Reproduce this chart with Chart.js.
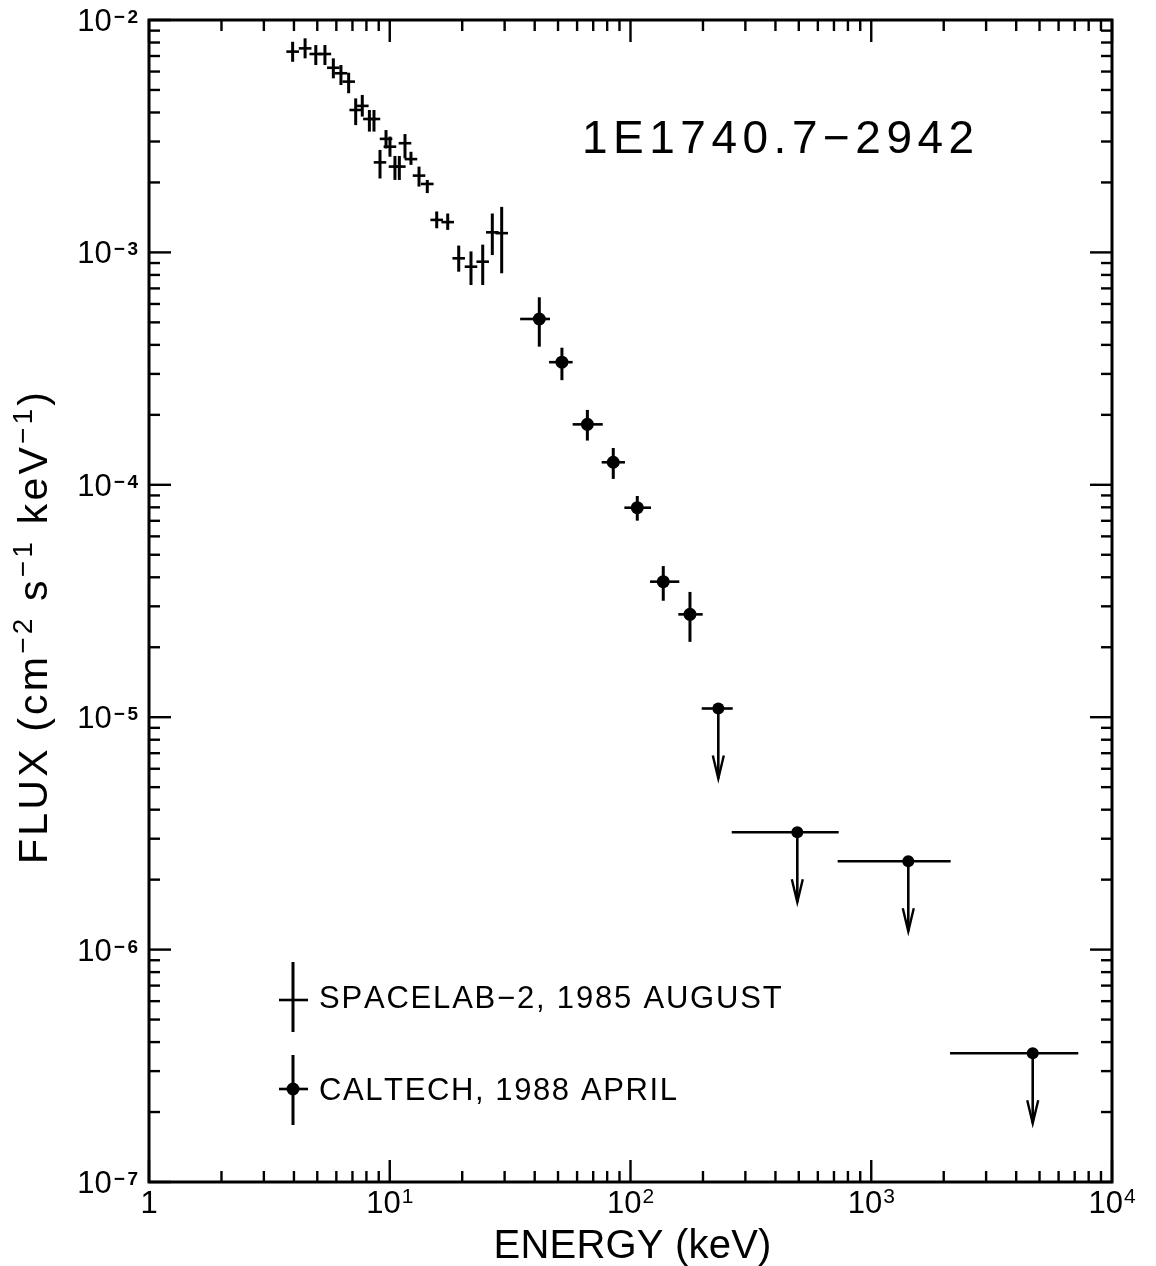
<!DOCTYPE html>
<html>
<head>
<meta charset="utf-8">
<script src="https://cdn.jsdelivr.net/npm/chart.js@4.4.1/dist/chart.umd.min.js"></script>
<style>
  html, body { margin: 0; padding: 0; background: #fff; }
  #wrap { width: 1156px; height: 1266px; }
</style>
</head>
<body>
<div id="wrap"><canvas id="c" width="1156" height="1266"></canvas></div>
<script>
// Spacelab-2 (1985 August) spectrum: energy bins (keV) and flux (cm^-2 s^-1 keV^-1)
const spacelabEnergy   = [3.95, 4.45, 4.93, 5.38, 5.83, 6.27, 6.75, 7.22, 7.69, 8.23, 8.60, 9.11, 9.65, 10.02, 10.51, 10.96, 11.57, 12.25, 13.23, 14.32, 15.67, 17.41, 19.34, 21.75, 24.33, 26.67, 29.17];
const spacelabEnergyLo = [3.72, 4.19, 4.64, 5.07, 5.49, 5.90, 6.36, 6.80, 7.24, 7.75, 8.10, 8.58, 9.09, 9.43, 9.90, 10.32, 10.89, 11.53, 12.46, 13.48, 14.75, 16.39, 18.21, 20.48, 22.91, 25.11, 27.47];
const spacelabEnergyHi = [4.20, 4.73, 5.24, 5.71, 6.19, 6.66, 7.17, 7.67, 8.17, 8.74, 9.13, 9.67, 10.25, 10.64, 11.16, 11.64, 12.29, 13.01, 14.05, 15.21, 16.64, 18.49, 20.54, 23.10, 25.84, 28.32, 30.98];
const spacelabFlux     = [7.31e-3, 7.55e-3, 7.14e-3, 7.14e-3, 6.23e-3, 5.90e-3, 5.43e-3, 4.10e-3, 4.27e-3, 3.75e-3, 3.75e-3, 2.44e-3, 3.08e-3, 2.85e-3, 2.34e-3, 2.34e-3, 2.95e-3, 2.52e-3, 2.14e-3, 1.97e-3, 1.38e-3, 1.35e-3, 9.43e-4, 8.68e-4, 9.12e-4, 1.22e-3, 1.21e-3];
const spacelabFluxHi   = [8.06e-3, 8.34e-3, 7.80e-3, 7.80e-3, 6.84e-3, 6.40e-3, 5.93e-3, 4.60e-3, 4.76e-3, 4.10e-3, 4.10e-3, 2.76e-3, 3.36e-3, 3.15e-3, 2.60e-3, 2.60e-3, 3.23e-3, 2.71e-3, 2.34e-3, 2.05e-3, 1.50e-3, 1.47e-3, 1.07e-3, 1.01e-3, 1.08e-3, 1.47e-3, 1.57e-3];
const spacelabFluxLo   = [6.61e-3, 6.84e-3, 6.40e-3, 6.40e-3, 5.61e-3, 5.25e-3, 4.84e-3, 3.53e-3, 3.84e-3, 3.31e-3, 3.31e-3, 2.08e-3, 2.80e-3, 2.58e-3, 2.05e-3, 2.05e-3, 2.54e-3, 2.38e-3, 1.92e-3, 1.80e-3, 1.27e-3, 1.25e-3, 8.26e-4, 7.24e-4, 7.24e-4, 9.74e-4, 8.13e-4];

// Caltech balloon (1988 April) detections
const caltechEnergy   = [41.8, 51.9, 66.2, 84.8, 106.7, 136.8, 176.6];
const caltechEnergyLo = [34.8, 45.9, 57.5, 75.9, 94.3, 120.5, 158.0];
const caltechEnergyHi = [46.3, 57.5, 76.7, 94.9, 121.7, 159.5, 199.5];
const caltechFlux     = [5.17e-4, 3.37e-4, 1.82e-4, 1.25e-4, 7.97e-5, 3.83e-5, 2.77e-5];
const caltechFluxHi   = [6.41e-4, 3.89e-4, 2.10e-4, 1.44e-4, 8.95e-5, 4.47e-5, 3.46e-5];
const caltechFluxLo   = [3.93e-4, 2.82e-4, 1.55e-4, 1.06e-4, 7.01e-5, 3.17e-5, 2.11e-5];

// Caltech upper limits
const limitEnergy   = [231.6, 493, 1425, 4685];
const limitEnergyLo = [197.6, 263.3, 725.3, 2124];
const limitEnergyHi = [265.8, 732.3, 2137, 7244];
const limitFlux     = [1.09e-5, 3.20e-6, 2.40e-6, 3.58e-7];

// Axis decades (powers of ten)
const xTickExponents = [0, 1, 2, 3, 4];
const yTickExponents = [-2, -3, -4, -5, -6, -7];

const titleText = '1E1740.7\u22122942';
const xTitle = 'ENERGY (keV)';
const yTitleParts = [
  { t: 'FLUX (cm', sup: false }, { t: '\u22122', sup: true },
  { t: ' s', sup: false }, { t: '\u22121', sup: true },
  { t: ' keV', sup: false }, { t: '\u22121', sup: true },
  { t: ')', sup: false }
];
const legendLabels = ['SPACELAB\u22122, 1985 AUGUST', 'CALTECH, 1988 APRIL'];

const FONT = '"Liberation Sans", Arial, Helvetica, sans-serif';

function toPoints(xs, ys) { return xs.map((v, i) => ({ x: v, y: ys[i] })); }

function charsWidth(ctx, text, spacing) {
  const chars = [...text];
  let w = 0;
  chars.forEach(c => { w += ctx.measureText(c).width; });
  return w + spacing * Math.max(0, chars.length - 1);
}
function drawSpaced(ctx, text, x, y, spacing, align) {
  const total = charsWidth(ctx, text, spacing);
  let cx = align === 'center' ? x - total / 2 : align === 'right' ? x - total : x;
  ctx.textAlign = 'left';
  for (const c of text) {
    ctx.fillText(c, cx, y);
    cx += ctx.measureText(c).width + spacing;
  }
  return total;
}

function line(ctx, x1, y1, x2, y2) {
  ctx.beginPath(); ctx.moveTo(x1, y1); ctx.lineTo(x2, y2); ctx.stroke();
}

// Error bars, bin widths and upper-limit arrows, placed through the chart scales
const errorBarPlugin = {
  id: 'errorBars',
  afterDatasetsDraw(chart) {
    const { ctx, scales: { x, y } } = chart;
    ctx.save();
    ctx.strokeStyle = '#000';
    ctx.lineCap = 'butt';

    const crosses = (E, Elo, Ehi, F, Flo, Fhi) => {
      for (let i = 0; i < E.length; i++) {
        const xp = x.getPixelForValue(E[i]);
        const yp = y.getPixelForValue(F[i]);
        ctx.lineWidth = 2.6;
        line(ctx, x.getPixelForValue(Elo[i]), yp, x.getPixelForValue(Ehi[i]), yp);
        ctx.lineWidth = 3;
        line(ctx, xp, y.getPixelForValue(Fhi[i]), xp, y.getPixelForValue(Flo[i]));
      }
    };
    crosses(spacelabEnergy, spacelabEnergyLo, spacelabEnergyHi, spacelabFlux, spacelabFluxLo, spacelabFluxHi);
    crosses(caltechEnergy, caltechEnergyLo, caltechEnergyHi, caltechFlux, caltechFluxLo, caltechFluxHi);

    for (let i = 0; i < limitEnergy.length; i++) {
      const xp = x.getPixelForValue(limitEnergy[i]);
      const yp = y.getPixelForValue(limitFlux[i]);
      ctx.lineWidth = 2.6;
      line(ctx, x.getPixelForValue(limitEnergyLo[i]), yp, x.getPixelForValue(limitEnergyHi[i]), yp);
      const tip = yp + 70;
      line(ctx, xp, yp, xp, tip);
      ctx.lineWidth = 2.4;
      ctx.beginPath();
      ctx.moveTo(xp - 5.5, tip - 23); ctx.lineTo(xp, tip); ctx.lineTo(xp + 5.5, tip - 23);
      ctx.stroke();
    }
    ctx.restore();
  }
};

// Frame, inward log ticks on all sides, labels, titles and legend
const framePlugin = {
  id: 'frame',
  afterDraw(chart) {
    const { ctx, chartArea: a, scales: { x, y } } = chart;
    ctx.save();
    ctx.strokeStyle = '#000';
    ctx.fillStyle = '#000';

    // ticks
    ctx.lineWidth = 2.4;
    const major = 22, minor = 11;
    const xe = xTickExponents;
    for (let k = 0; k < xe.length; k++) {
      for (let m = 1; m <= 9; m++) {
        if (k === xe.length - 1 && m > 1) break;
        const v = m * Math.pow(10, xe[k]);
        const px = x.getPixelForValue(v);
        const len = m === 1 ? major : minor;
        line(ctx, px, a.bottom, px, a.bottom - len);
        line(ctx, px, a.top, px, a.top + len);
      }
    }
    const ye = yTickExponents.slice().sort((p, q) => p - q);
    for (let k = 0; k < ye.length; k++) {
      for (let m = 1; m <= 9; m++) {
        if (k === ye.length - 1 && m > 1) break;
        const v = m * Math.pow(10, ye[k]);
        const py = y.getPixelForValue(v);
        const len = m === 1 ? major : minor;
        line(ctx, a.left, py, a.left + len, py);
        line(ctx, a.right, py, a.right - len, py);
      }
    }

    // frame
    ctx.lineWidth = 3;
    ctx.strokeRect(a.left, a.top, a.right - a.left, a.bottom - a.top);

    // x tick labels
    ctx.textBaseline = 'alphabetic';
    const mainF = '31px ' + FONT, supXF = '21px ' + FONT, supYF = 'bold 19px ' + FONT;
    xTickExponents.forEach(e => {
      const px = x.getPixelForValue(Math.pow(10, e));
      const base = a.bottom + 31;
      if (e === 0) {
        ctx.font = mainF; ctx.textAlign = 'center';
        ctx.fillText('1', px, base);
        return;
      }
      ctx.font = mainF; const w1 = ctx.measureText('10').width;
      ctx.font = supXF; const w2 = ctx.measureText(String(e)).width;
      const start = px - (w1 + w2 + 1) / 2;
      ctx.textAlign = 'left';
      ctx.font = mainF; ctx.fillText('10', start, base);
      ctx.font = supXF; ctx.fillText(String(e), start + w1 + 1, base - 10);
    });

    // y tick labels
    yTickExponents.forEach(e => {
      const py = y.getPixelForValue(Math.pow(10, e));
      const exp = '\u2212' + String(-e);
      ctx.font = mainF; const w1 = ctx.measureText('10').width;
      ctx.font = supYF; const w2 = charsWidth(ctx, exp, 2.5);
      const right = a.left - 11;
      const start = right - w1 - w2 - 2;
      ctx.textAlign = 'left';
      ctx.font = mainF; ctx.fillText('10', start, py + 11);
      ctx.font = supYF; drawSpaced(ctx, exp, start + w1 + 2, py + 3, 2.5, 'left');
    });

    // x title
    ctx.font = '40px ' + FONT;
    drawSpaced(ctx, xTitle, (a.left + a.right) / 2 + 2, 1258, 0.2, 'center');

    // y title (rotated)
    ctx.save();
    ctx.translate(47, 628);
    ctx.rotate(-Math.PI / 2);
    const mainY = '41px ' + FONT, supY = '28px ' + FONT;
    const spY = 3.2;
    let total = 0;
    yTitleParts.forEach((p, i) => {
      ctx.font = p.sup ? supY : mainY;
      p.w = charsWidth(ctx, p.t, spY);
      total += p.w + (i ? spY : 0);
    });
    let cx = -total / 2;
    yTitleParts.forEach(p => {
      ctx.font = p.sup ? supY : mainY;
      drawSpaced(ctx, p.t, cx, p.sup ? -15 : 0, spY, 'left');
      cx += p.w + spY;
    });
    ctx.restore();

    // title
    ctx.font = '46px ' + FONT;
    drawSpaced(ctx, titleText, 582, 153, 5.5, 'left');

    // legend
    ctx.lineWidth = 2.6;
    line(ctx, 279, 1000, 308, 1000);
    ctx.lineWidth = 3;
    line(ctx, 293, 962, 293, 1032);
    ctx.lineWidth = 2.6;
    line(ctx, 279, 1089, 308, 1089);
    ctx.lineWidth = 3;
    line(ctx, 293, 1055, 293, 1125);
    ctx.beginPath(); ctx.arc(293, 1089, 6.5, 0, Math.PI * 2); ctx.fill();
    ctx.font = '31px ' + FONT;
    drawSpaced(ctx, legendLabels[0], 319, 1008, 1.8, 'left');
    drawSpaced(ctx, legendLabels[1], 319, 1100, 1.6, 'left');

    ctx.restore();
  }
};

new Chart(document.getElementById('c'), {
  type: 'scatter',
  data: {
    datasets: [
      { label: legendLabels[0], data: toPoints(spacelabEnergy, spacelabFlux), pointRadius: 0, showLine: false },
      { label: legendLabels[1], data: toPoints(caltechEnergy, caltechFlux), pointRadius: 6.5, pointBackgroundColor: '#000', pointBorderWidth: 0, showLine: false },
      { label: 'upper limits', data: toPoints(limitEnergy, limitFlux), pointRadius: 6, pointBackgroundColor: '#000', pointBorderWidth: 0, showLine: false }
    ]
  },
  options: {
    responsive: false,
    animation: false,
    devicePixelRatio: 1,
    layout: { padding: { left: 149, top: 20, right: 44, bottom: 84 } },
    scales: {
      x: { type: 'logarithmic', min: 1, max: 10000, display: false },
      y: { type: 'logarithmic', min: 1e-7, max: 1e-2, display: false }
    },
    plugins: { legend: { display: false }, tooltip: { enabled: false } }
  },
  plugins: [errorBarPlugin, framePlugin]
});
</script>
</body>
</html>
